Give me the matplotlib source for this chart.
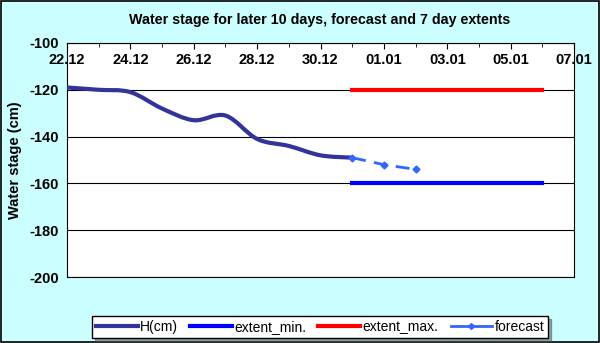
import matplotlib
matplotlib.use("Agg")
import matplotlib.pyplot as plt
from matplotlib.path import Path
from matplotlib.patches import PathPatch
from matplotlib.lines import Line2D
import numpy as np

plt.rcParams['font.family'] = ['Liberation Sans', 'DejaVu Sans']
plt.rcParams['axes.unicode_minus'] = False

# days counted from 22.12
tick_labels = ["22.12", "24.12", "26.12", "28.12", "30.12", "01.01", "03.01", "05.01", "07.01"]
h_days = [0, 1, 2, 3, 4, 5, 6, 7, 8, 9]
h_cm = [-119, -120, -121, -128, -133, -131, -141, -144, -148, -149]
fc_days = [9, 10, 11]
forecast = [-149, -152, -154]
ext_days = [9, 15]
extent_min = [-160, -160]
extent_max = [-120, -120]

BG = "#ccffff"
fig = plt.figure(figsize=(6, 3.43), dpi=100, facecolor=BG)
fig.patches.append(plt.Rectangle((0.001, 0.002), 0.997, 0.995, transform=fig.transFigure,
                                 fill=False, edgecolor="black", linewidth=1.2))
ax = fig.add_axes([67 / 600, 1 - 277 / 343, (574 - 67) / 600, (277 - 43) / 343])
ax.set_facecolor("white")

# smoothed line (Catmull-Rom converted to cubic Bezier)
x = np.array(h_days, float)
y = np.array(h_cm, float)
verts = [(x[0], y[0])]
codes = [Path.MOVETO]
for i in range(len(x) - 1):
    p0 = np.array([x[max(i - 1, 0)], y[max(i - 1, 0)]])
    p1 = np.array([x[i], y[i]])
    p2 = np.array([x[i + 1], y[i + 1]])
    p3 = np.array([x[min(i + 2, len(x) - 1)], y[min(i + 2, len(x) - 1)]])
    c1 = p1 + (p2 - p0) / 6
    c2 = p2 - (p3 - p1) / 6
    verts += [tuple(c1), tuple(c2), tuple(p2)]
    codes += [Path.CURVE4] * 3
ax.add_patch(PathPatch(Path(verts, codes), fill=False, edgecolor="#333399",
                       linewidth=3, capstyle="round", zorder=3))

ax.plot(ext_days, extent_min, color="#0000ff", linewidth=3, zorder=3)
ax.plot(ext_days, extent_max, color="#ff0000", linewidth=3, zorder=3)
ax.plot(fc_days, forecast, color="#3366ff", linewidth=2, linestyle=(0, (5, 3)),
        marker="D", markersize=3.5, zorder=4)

ax.set_xlim(0, 16)
ax.set_ylim(-200, -100)
ax.set_yticks([-100, -120, -140, -160, -180, -200])
ax.grid(axis="y", color="black", linewidth=0.8)
ax.set_axisbelow(True)
ax.xaxis.tick_top()
ax.set_xticks(np.arange(0, 17, 2))
ax.set_xticks(np.arange(0, 17, 1), minor=True)
ax.set_xticklabels(tick_labels, fontsize=10.5, fontweight="bold")
ax.tick_params(axis="x", which="major", direction="in", length=4, pad=-17)
ax.tick_params(axis="x", which="minor", direction="in", length=3)
ax.tick_params(axis="y", length=0, labelsize=10.5, pad=6)
for lab in ax.get_yticklabels():
    lab.set_fontweight("bold")
for s in ax.spines.values():
    s.set_linewidth(0.8)

ax.set_ylabel("Water stage (cm)", fontsize=10.5, fontweight="bold", labelpad=5)
fig.text(320 / 600, 1 - 20 / 343, "Water stage for later 10 days, forecast and 7 day extents",
         ha="center", va="center", fontsize=10.3, fontweight="bold")

handles = [Line2D([], [], color="#333399", linewidth=3),
           Line2D([], [], color="#0000ff", linewidth=3),
           Line2D([], [], color="#ff0000", linewidth=3),
           Line2D([], [], color="#3366ff", linewidth=2, marker="D", markersize=3)]
labels = ["H(cm)", "extent_min.", "extent_max.", "forecast"]
leg = fig.legend(handles, labels, loc="center", bbox_to_anchor=(320 / 600, 1 - 327 / 343),
                 ncol=4, frameon=True, fancybox=False, shadow=True, fontsize=10,
                 handlelength=3.0, handletextpad=0.15, columnspacing=0.9,
                 borderpad=0.3, edgecolor="black")
leg.get_frame().set_linewidth(1)

fig.savefig("out.png", dpi=100, facecolor=BG)
